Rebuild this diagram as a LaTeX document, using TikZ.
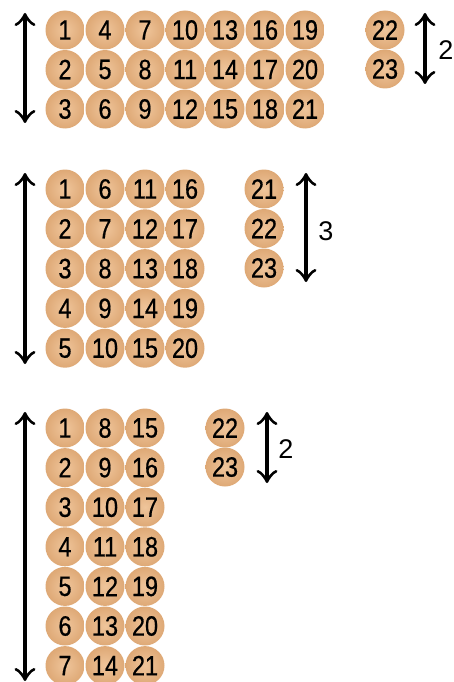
\documentclass[tikz,border=0pt]{standalone}
\usepackage{fontspec}
\setmainfont{Liberation Sans}
\newfontfamily\ballfont[FakeStretch=0.84, FakeBold=0.6]{Liberation Sans}
\usetikzlibrary{arrows.meta, positioning}
\definecolor{ballLight}{HTML}{EFC59B}
\definecolor{ballMid}{HTML}{DCA571}
\definecolor{ballDark}{HTML}{BD824D}
\pgfdeclareradialshading{ballShade}{\pgfpoint{0bp}{0bp}}{color(0bp)=(ballLight);
  color(28bp)=(ballMid); color(50bp)=(ballDark); color(100bp)=(ballDark)}
\tikzset{
  ball/.style={circle, shading=ballShade, minimum size=39pt, inner sep=0pt,
               font=\ballfont\fontsize{28}{28}\selectfont},
  dblArrow/.style={{Classical TikZ Rightarrow[length=13pt, width=21pt]}-{Classical TikZ Rightarrow[length=13pt, width=21pt]},
                   line width=3.2pt},
  countLbl/.style={font=\fontsize{27}{27}\selectfont, inner sep=0pt},
}

\begin{document}
\begin{tikzpicture}[x=1pt, y=-1pt]
    \useasboundingbox[fill=white] (0,0) rectangle (454,682);
    % 7 x 3
    \foreach \n in {1,...,21} {
      \pgfmathtruncatemacro{\cl}{(\n-1)/3}
      \pgfmathtruncatemacro{\rw}{mod(\n-1,3)}
      \node[ball] (a\n) at (65+40*\cl, 30+39.5*\rw) {\n};
    }
    \node[ball] (a22) at (385,30) {22};
    \node[ball] (a23) at (385,69) {23};
    \coordinate (aTop) at (25,13);
    \coordinate (aBot) at (25,123);
    \draw[dblArrow] (aTop) -- (aBot);
    \coordinate (aRestTop) at (425,13);
    \coordinate (aRestBot) at (425,84);
    \draw[dblArrow] (aRestTop) -- (aRestBot);
    \node[countLbl] (aLbl) at (446,50) {2};
    % 4 x 5
    \foreach \n in {1,...,20} {
      \pgfmathtruncatemacro{\cl}{(\n-1)/5}
      \pgfmathtruncatemacro{\rw}{mod(\n-1,5)}
      \node[ball] (b\n) at (65+40*\cl, 189+39.8*\rw) {\n};
    }
    \foreach \n/\k in {21/0,22/1,23/2} {
      \node[ball] (b\n) at (264, 189+39.5*\k) {\n};
    }
    \coordinate (bTop) at (25,173);
    \coordinate (bBot) at (25,364);
    \draw[dblArrow] (bTop) -- (bBot);
    \coordinate (bRestTop) at (306,173);
    \coordinate (bRestBot) at (306,282);
    \draw[dblArrow] (bRestTop) -- (bRestBot);
    \node[countLbl] (bLbl) at (326,231) {3};
    % 3 x 7
    \foreach \n in {1,...,21} {
      \pgfmathtruncatemacro{\cl}{(\n-1)/7}
      \pgfmathtruncatemacro{\rw}{mod(\n-1,7)}
      \node[ball] (c\n) at (65+40*\cl, 428+39.6*\rw) {\n};
    }
    \node[ball] (c22) at (225,428) {22};
    \node[ball] (c23) at (225,467) {23};
    \coordinate (cTop) at (25,412);
    \coordinate (cBot) at (25,681);
    \draw[dblArrow] (cTop) -- (cBot);
    \coordinate (cRestTop) at (267,412);
    \coordinate (cRestBot) at (267,483);
    \draw[dblArrow] (cRestTop) -- (cRestBot);
    \node[countLbl] (cLbl) at (286,449) {2};
\end{tikzpicture}
\end{document}
